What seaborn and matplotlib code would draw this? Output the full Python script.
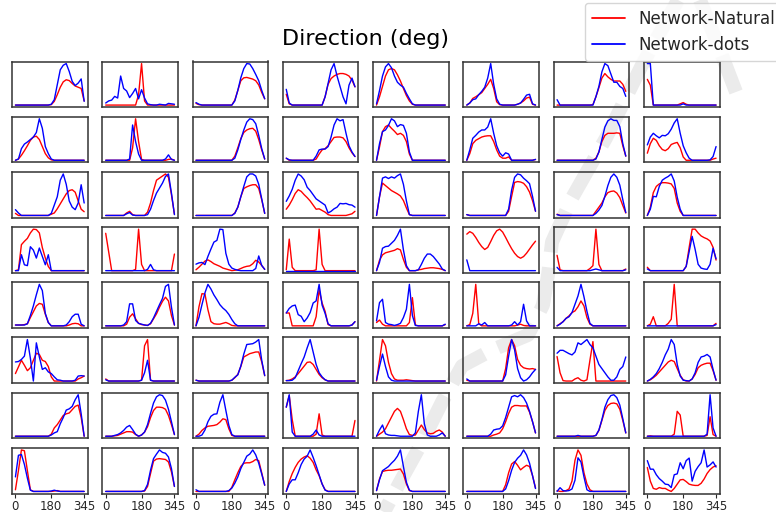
import matplotlib
matplotlib.use("Agg")
import matplotlib.pyplot as plt
import seaborn as sns
from matplotlib.lines import Line2D

# direction bins (deg)
angles = [0, 15, 30, 45, 60, 75, 90, 105, 120, 135, 150, 165,
          180, 195, 210, 225, 240, 255, 270, 285, 300, 315, 330, 345]
tick_values = [0, 180, 345]

# tuning curves per unit, one list of 8 panels per grid row
natural_row0 = [
    [0,0,0,0,0,0,0,0,0,0,0,0,0.1,0.9,2.5,4.3,5.6,6.1,5.9,5.2,4.6,4.3,4.0,1.0],
    [0,0,0,0,0,0,0,0,0,0,0,2.5,10,1.0,0,0,0,0,0,0,0,0,0,0],
    [0.4,0.1,0,0,0,0,0,0,0,0,0,0,0,1.2,3.5,5.8,6.5,6.6,6.4,6.2,5.8,4.8,3.0,1.5],
    [2.6,0.3,0,0,0,0,0,0,0,0,0,0,0,2.0,5.0,6.4,7.0,7.4,7.6,7.6,7.4,7.0,6.0,4.4],
    [0,2.0,4.5,7.0,8.5,8.8,8.5,7.3,5.8,4.0,2.3,1.0,0.2,0,0,0,0,0,0,0,0,0,0,0],
    [0,0.5,1.6,2.0,2.5,3.0,4.0,5.0,6.2,4.0,0.8,0.1,0,0,0,0,0,0.2,0.5,1.0,1.7,1.9,0.2,0],
    [0,0,0,0,0,0,0,0,0,0,0,0,0.1,2.0,4.2,6.5,7.6,6.8,6.2,5.8,5.8,5.8,5.0,3.3],
    [6.2,4.8,0,0,0,0,0,0,0,0,0,0.3,0.6,0.2,0,0,0,0,0,0,0,0,0,0],
]
dots_row0 = [
    [0,0,0,0,0,0,0,0,0,0,0,0,0.2,1.3,4.9,8.5,9.6,10,8.1,5.7,4.7,5.3,6.3,0.9],
    [0.5,1.0,1.2,2.1,1.7,7.0,4.0,3.4,1.8,2.8,4.0,1.5,3.7,1.7,0.3,0.1,0,0,0.2,0.1,0,0.4,0.3,0.2],
    [0.6,0.2,0,0,0,0,0,0,0,0,0,0,0,1.0,3.5,6.5,8.7,9.9,9.8,8.7,7.3,5.8,3.5,1.5],
    [3.8,0.5,0,0,0,0,0,0,0,0,0,0,0,2.0,5.2,8.5,10,7.0,4.5,2.0,0.3,4.8,6.5,4.4],
    [0.3,3.5,7.0,9.2,10,9.0,7.0,5.5,4.8,4.3,2.8,1.5,0.3,0,0,0,0,0,0,0,0,0,0,0],
    [0,0.5,1.3,1.5,2.5,3.3,4.3,6.5,10,5.0,1.5,0.2,0,0,0,0,0,0.2,0.5,1.4,2.4,2.6,0.3,0],
    [1.3,0,0,0,0,0,0,0,0,0,0,0,0,2.0,4.5,8.0,10,9.5,7.5,5.5,5.5,4.5,4.0,2.1],
    [10,10,0,0,0,0,0,0,0,0,0,0,0.3,0,0,0,0,0,0,0,0,0,0,0],
]

natural_row1 = [
    [0,0.3,1.2,2.3,3.5,4.8,5.6,5.8,5.0,3.3,1.6,0.6,0.1,0,0,0,0,0,0,0,0,0,0,0],
    [0,0,0,0,0,0,0,0,0,3.0,10,4.5,0.2,0,0,0,0,0,0,0,0,0.2,0.3,0],
    [0,0,0,0,0,0,0,0,0,0,0,0,0,1.0,3.0,5.2,6.7,7.3,7.6,7.7,7.0,5.0,2.5,0.3],
    [0.5,0,0,0,0,0,0,0,0,0,0.3,1.5,2.5,2.8,3.5,4.5,5.5,5.6,5.6,5.4,4.5,3.0,1.8,0.9],
    [0,3.2,6.9,8.1,8.5,7.7,7.0,6.2,6.5,6.0,4.5,1.5,0,0,0,0,0,0,0,0,0,0,0,0],
    [0,1.6,4.0,4.8,5.2,5.6,5.8,5.9,5.9,4.5,2.5,1.0,0.5,0.5,0.8,0,0,0,0,0,0,0,0,0.2],
    [0,0,0,0,0,0,0,0,0,0,0,0,0,0.5,2.0,4.5,6.0,6.5,6.5,6.5,6.6,6.5,3.5,1.0],
    [1.7,4.0,5.3,4.8,3.5,2.6,2.3,2.8,3.8,4.1,4.3,3.0,0.8,0,0,0,0,0,0,0,0,0,0.3,0.5],
]
dots_row1 = [
    [0,0.3,2.8,3.9,4.4,5.0,5.6,6.7,10,7.7,3.3,1.6,0.3,0,0,0,0,0,0,0,0,0,0,0],
    [0,0,0,0,0,0,0,0,0.3,8.5,4.5,1.5,0,0,0,0,0,0,0,0,0.3,1.3,0.2,0],
    [0,0,0,0,0,0,0,0,0,0,0,0,0,0.5,2.5,5.0,7.3,9.2,10,9.8,8.8,6.0,2.8,0.3],
    [0.5,0.1,0,0,0,0,0,0,0,0,1.0,2.5,2.7,2.7,3.3,5.6,8.5,10,9.5,9.8,6.5,3.5,2.0,0.9],
    [0,4.0,6.9,7.3,8.4,10,9.5,8.1,8.6,8.4,6.5,2.0,0,0,0,0,0,0,0,0,0,0,0,0],
    [0,2.5,5.3,6.0,6.8,7.3,7.3,8.0,10,6.5,3.5,1.8,1.0,1.8,1.5,0,0,0,0,0,0,0,0,0.2],
    [0,0,0,0,0,0,0,0,0,0,0,0,0,0.3,2.0,5.0,8.0,9.5,10,9.6,9.6,8.1,4.0,1.0],
    [3.7,5.6,6.5,5.9,5.4,6.0,5.9,6.4,7.5,9.0,10,6.5,3.5,1.8,0.5,0,0,0,0,0,0,0.1,0.9,3.3],
]

natural_row2 = [
    [0.5,0,0,0,0,0,0,0,0,0,0,0,0.3,0.6,1.6,2.8,4.0,5.2,6.0,6.2,5.6,3.5,1.5,0.9],
    [0,0,0,0,0,0,0,0.6,1.0,0.2,0,0,0,0,0.8,3.0,6.0,8.5,9.0,9.5,10,9.2,5.0,0.3],
    [0,0,0,0,0,0,0,0,0,0,0,0,0,0.6,2.0,4.5,6.5,6.9,7.2,7.4,7.4,6.5,3.8,0.5],
    [1.5,2.5,3.8,5.3,6.2,5.8,5.0,4.3,3.5,2.5,1.5,1.6,1.2,0.8,0.2,0,0,0,0,0,0,0.2,0.4,1.0],
    [0,4.5,7.8,7.2,6.6,6.0,5.6,5.2,4.7,3.6,1.8,0.2,0,0,0,0,0,0,0,0,0,0,0,0],
    [0.2,0,0,0,0,0,0,0,0,0,0,0,0,0,1.0,4.5,7.8,8.0,7.9,7.6,6.8,5.5,3.5,1.0],
    [0.3,0,0,0,0,0,0,0,0,0,0,0,0,1.0,2.0,3.0,4.5,5.5,5.8,5.9,5.4,4.3,2.4,0.6],
    [0,2.0,5.5,7.0,7.6,7.9,7.9,7.8,7.6,6.5,3.0,1.0,0,0,0,0,0,0,0,0,0,0,0,0],
]
dots_row2 = [
    [1.4,0.6,0,0,0,0,0,0,0,0,0,0,0.5,2.5,4.5,8.5,10,7.5,3.5,2.0,1.4,3.0,7.4,3.0],
    [0,0,0,0,0,0,0,0.4,0.7,0.1,0,0,0,0,0.2,1.5,3.6,5.4,6.6,7.8,9.4,10,5.4,0.2],
    [0,0,0,0,0,0,0,0,0,0,0,0,0,0.5,2.0,4.5,7.0,9.3,10,10,9.5,7.5,4.0,0.5],
    [3.4,4.7,6.3,8.5,10,9.5,8.6,6.8,6.0,5.0,4.0,3.5,3.0,2.5,0.6,1.0,1.6,2.0,2.9,2.8,2.9,2.6,2.5,2.0],
    [0,4.5,9.0,9.3,8.9,9.3,9.0,9.6,10,7.5,3.5,0.2,0,0,0,0,0,0,0,0,0,0,0,0],
    [0.2,0,0,0,0,0,0,0,0,0,0,0,0,0,1.5,6.0,9.0,9.8,9.6,8.8,8.2,7.5,4.5,1.0],
    [0.2,0,0,0,0,0,0,0,0,0,0,0,0,0.5,1.3,2.4,4.6,7.2,9.2,10,9.2,7.3,3.8,0.7],
    [0,1.5,4.6,4.5,7.0,8.5,9.0,9.4,10,8.3,4.4,1.5,0,0,0,0,0,0,0,0,0,0,0,0],
]

natural_row3 = [
    [0,0.2,6.2,7.0,7.7,9.0,9.9,9.8,9.0,5.5,3.0,1.0,0,0,0,0,0,0,0,0,0,0,0,0],
    [9.0,4.5,0,0,0,0,0,0,0,0,0.3,10,1.5,0,0,0,0,0,0,0,0,0,0,4.0],
    [0.2,0.8,1.5,2.2,2.5,2.1,1.6,1.3,1.0,0.6,0.4,0.2,0,0.1,0.2,0.5,0.8,1.0,1.1,1.6,2.4,2.0,1.2,0.3],
    [0.2,7.6,0.8,0,0,0,0,0,0,0,0.2,10,1.5,0,0,0,0,0,0,0,0,0,0,0],
    [0,2.5,3.8,4.3,4.5,4.7,4.9,5.3,5.0,2.7,0.8,0,0,0,0.2,0.3,0.5,0.6,0.7,0.7,0.6,0.5,0.3,0],
    [8.8,9.4,9.0,8.0,6.8,5.8,5.1,5.6,7.0,8.5,9.6,10,9.3,8.0,6.6,5.3,4.2,3.4,3.0,3.4,4.2,5.2,6.2,7.1],
    [3.7,0.2,0,0,0,0,0,0,0,0,0,0.5,1.2,10,1.5,0,0,0,0,0,0,0,0,0.4],
    [0.8,0,0,0,0,0,0,0,0,0,0,0,0,1.0,5.5,9.8,9.8,8.9,8.2,7.8,7.5,7.0,5.5,2.5],
]
dots_row3 = [
    [0,0,3.8,1.4,1.2,5.7,4.9,3.0,5.4,3.4,1.4,3.8,0,0,0,0,0,0,0,0,0,0,0,0],
    [0,0,0,0,0,0,0,0,0,0,0,0,0,0,0.3,1.5,0.2,0,0,0,0,0,0,0],
    [1.5,1.8,1.9,1.4,3.3,5.0,6.6,7.0,9.6,9.5,4.0,1.5,0.6,0.3,0.1,0,0,0,0,0,0.5,3.4,1.2,0.3],
    [0,0,0,0,0,0,0,0,0,0,0,0,0,0,0,0,0,0,0,0,0,0,0,0],
    [0,2.0,5.4,5.8,5.9,6.6,7.3,8.5,10,5.0,1.2,0,0,0,0.2,1.5,3.0,4.0,4.0,3.4,2.5,1.6,0.4,0],
    [2.6,0,0,0,0,0,0,0,0,0,0,0,0,0,0,0,0,0,0,0,0,0,0,0],
    [0.8,0,0,0,0,0,0,0,0,0,0,0,0.2,0.4,0.2,0,0,0,0,0,0,0,0,0.2],
    [0.4,0,0,0,0,0,0,0,0,0,0,0,0,1.0,4.5,8.1,5.0,1.5,0.6,0.4,0.3,1.5,5.3,2.8],
]

natural_row4 = [
    [0.2,0.2,0.2,0.3,0.5,2.0,3.4,4.8,5.4,5.2,2.8,0.8,0,0,0,0,0,0,0.2,0.5,0.6,0.5,0,0],
    [0,0,0,0,0,0,0,0.4,2.1,2.9,1.7,0.6,0.3,0.2,0.1,0.5,1.7,2.9,4.5,5.9,6.9,6.0,2.5,0.2],
    [0,4.5,7.6,7.5,3.8,1.0,0.5,0.4,0.4,0.6,0.8,0.5,0.1,0,0,0,0,0,0,0,0,0,0,0],
    [3.1,3.1,0,0,0,0,0,0,0,0,2.2,8.7,5.5,3.5,0.3,0,0,0,0,0,0,0,0.2,1.0],
    [0.8,1.4,0.4,0,0,0,0,0,0,0,0,0.8,6.8,0.2,0,0,0,0,0,0,0,0,0,0.3],
    [0,0.3,3.0,10,0.5,0,0,0,0,0,0,0,0,0,0,0,0,0.2,0.4,0.1,0,0,0,0],
    [0,0.5,1.0,1.8,2.4,3.2,3.6,4.6,6.0,4.8,2.0,0.4,0,0,0,0,0,0,0,0,0,0,0,0],
    [0,0.4,2.2,0,0,0,0,0.6,1.6,10,0,0,0,0,0,0,0,0,0,0,0,0,0,0.6],
]
dots_row4 = [
    [0.2,0.2,0.2,0.2,0.5,2.5,4.8,7.5,10,8.5,3.0,0.8,0,0,0,0,0,0.2,1.0,2.2,2.8,2.8,0.4,0],
    [0,0,0,0,0,0,0.2,1.0,5.3,5.3,1.3,0.6,0.4,0.2,0.1,0.6,1.9,3.5,5.1,6.6,9.5,10,4.5,0.2],
    [0,2.0,5.0,7.8,9.8,8.7,7.3,6.2,5.0,4.2,3.6,2.7,1.5,0.5,0,0,0,0,0,0,0,0,0,0],
    [3.1,4.2,4.8,5.0,2.7,2.3,1.0,1.9,3.2,5.5,6.0,10,5.0,3.0,0.5,0,0,0,0,0,0,0,0.2,1.0],
    [1.2,5.6,6.4,0.8,0.4,0.3,0.1,0.3,0.6,2.0,4.0,10,2.5,0.1,0,0,0,0,0,0,0,0,0,0.4],
    [0,0,0,0,0.5,0.2,0.8,0,0,0,0,0,0,0,0,0.2,1.0,0.2,1.0,5.2,1.2,0,0,0],
    [0,0.4,1.0,1.8,2.2,3.2,5.2,7.2,10,7.0,3.5,0.6,0,0,0,0,0,0,0,0,0,0,0,0],
    [0,0,0,0,0,0,0,0,0,0,0,0,0,0,0,0,0,0,0,0,0,0,0,0.3],
]

natural_row5 = [
    [1.8,3.4,5.0,3.8,2.5,3.2,5.0,6.7,6.4,5.0,4.7,3.5,1.0,0,0,0,0,0,0,0,0,0.5,0.8,1.2],
    [0.5,0,0,0,0,0,0,0,0,0,0,0,0.2,8.5,10,0.2,0,0,0,0,0,0,0,0],
    [0.2,0,0,0,0,0,0,0,0,0,0,0,0.2,0.8,1.6,3.5,5.8,6.2,6.6,6.8,7.0,7.0,4.6,1.3],
    [0.1,0.2,0.5,1.0,1.8,2.7,3.6,4.5,4.6,4.0,2.8,1.6,0.8,0.3,0,0,0,0,0,0,0,0,0,0],
    [0,5.0,10,8.5,4.5,1.8,0.5,0.2,0.2,0.2,0.3,0.2,0.1,0,0,0,0,0,0,0,0,0,0,0],
    [0.2,0,0,0,0,0,0,0,0,0,0,0,0,3.0,8.0,10,8.5,5.2,3.8,3.2,3.0,2.9,3.0,2.8],
    [5.9,2.0,0.1,0,0,0,0.5,0.8,0.2,0,0.3,5.0,9.5,0,0,0,0,0,0,0,0,0,0,0],
    [0,0.3,0.8,1.4,2.2,3.0,3.8,4.6,5.0,4.7,3.0,1.4,0.3,0,0,0.5,1.6,3.2,3.8,4.1,4.3,4.3,2.5,0.2],
]
dots_row5 = [
    [4.6,4.7,5.2,6.0,10,5.5,0,9.2,5.8,2.8,3.2,2.2,1.8,1.0,0.3,0.2,0,0,0,0,0.2,1.2,1.3,1.2],
    [0.3,0,0,0,0,0,0,0,0,0,0,0,0.2,2.0,5.0,0.2,0,0,0,0,0,0,0,0],
    [0.2,0,0,0,0,0,0,0,0,0,0,0,0.2,0.9,1.5,3.6,6.5,8.8,8.9,9.0,9.4,10,5.0,1.3],
    [0.1,0.1,0.2,0.8,2.5,4.2,5.8,8.0,10,7.0,4.0,2.0,1.0,0.3,0,0,0,0,0,0,0,0,0,0],
    [0.2,3.5,6.5,3.5,1.0,0.2,0,0,0,0,0,0,0,0,0,0,0,0,0,0,0,0,0,0],
    [0.5,0,0,0,0,0,0,0,0,0,0,0,0,1.5,6.0,10,7.5,3.0,0.8,0,0.3,1.0,2.0,2.8],
    [6.7,7.4,7.4,7.0,6.6,6.3,7.0,9.2,8.8,9.4,10,8.8,8.0,6.0,4.0,3.0,2.0,1.0,0.2,0.2,1.0,2.8,3.5,5.8],
    [0,0.4,1.0,1.8,3.0,4.5,6.3,7.7,10,8.8,4.0,1.2,0.2,0.1,0,0.5,2.0,4.5,5.8,6.0,6.4,5.8,2.8,0.2],
]

natural_row6 = [
    [0,0,0,0,0,0,0,0,0,0,0,0,0.5,2.0,2.8,3.9,5.0,5.4,5.6,6.4,7.2,7.5,4.5,0],
    [0,0,0,0.1,0.2,0.5,0.8,1.1,1.1,1.0,0.4,0,0.3,1.0,2.3,4.5,6.2,7.0,7.0,6.9,6.5,5.0,2.8,0.4],
    [0,0.5,1.4,2.0,2.4,2.5,2.6,2.8,3.4,4.2,4.0,1.8,0.2,0,0,0,0,0,0,0,0,0,0,0],
    [7.0,9.8,4.0,0,0,0,0,0,0,0,0.5,5.4,0.3,0,0,0,0,0,0,0,0,0,0,3.8],
    [0,0.5,1.0,1.8,3.2,4.6,6.0,6.7,6.0,4.0,1.8,0.4,0.2,0.3,1.5,2.7,1.6,0.8,0.6,0.7,1.2,1.5,1.0,0],
    [0,0,0,0,0,0,0,0,0,0.3,0.5,0.8,1.8,3.5,5.5,7.0,7.4,7.4,7.3,7.3,7.3,5.8,3.5,0.8],
    [0,0,0,0,0,0,0,0,0,0,0,0,0,0.2,1.4,3.8,6.2,7.4,7.9,8.0,7.8,6.5,3.8,0.8],
    [0,0.1,0,0,0,0,0,0,0,0.5,6.0,5.1,0,0,0,0,0,0,0,0,0.2,4.7,0.4,0],
]
dots_row6 = [
    [0,0,0,0,0,0,0,0,0,0,0,0,0.3,0.8,1.1,3.0,4.5,6.3,6.6,7.2,8.8,10,5.4,0],
    [0,0,0,0.2,0.4,0.8,1.4,2.2,2.6,1.6,0.5,0,0.3,1.0,2.8,5.5,8.0,9.5,10,9.8,8.7,6.5,3.5,0.4],
    [0,0,0.3,1.5,3.5,4.8,5.3,5.4,8.2,10,6.2,2.6,0.4,0,0,0,0,0,0,0,0,0,0,0],
    [7.0,10,1.0,0,0,0,0,0,0,0.5,1.5,0.3,0,0,0,0,0,0,0,0,0,0,0,0],
    [0,1.5,2.7,0.6,0.3,0.2,0.2,0.1,0,0,0,0,0,0.8,6.0,10,3.0,0.3,0,0,0,0.3,0.8,0],
    [0,0,0,0,0,0,0,0,0.5,1.5,1.7,1.8,2.5,4.5,7.0,9.5,9.8,9.5,10,9.3,8.0,6.0,3.5,0.8],
    [0,0,0,0,0,0,0,0.2,0,0,0,0,0,0.2,1.5,4.0,7.0,8.8,9.8,10,9.3,7.5,4.2,0.8],
    [0,0,0,0,0,0,0,0,0,0,0,0,0,0,0,0,0,0,0,0,0.5,10,2.0,0],
]

natural_row7 = [
    [0.4,5.0,10,9.8,5.0,0.4,0,0,0,0,0,0,0,0.1,0.2,0,0,0,0,0,0,0,0,0],
    [0,0,0,0,0,0,0,0,0,0,0,0,0,0.1,1.2,4.3,7.3,7.8,7.9,7.8,7.7,7.1,4.7,1.2],
    [0,0,0,0,0,0,0,0,0,0,0,0,1.0,2.8,4.5,6.0,6.8,6.9,6.9,7.2,7.7,7.4,4.5,1.5],
    [0,2.4,4.3,5.8,7.0,7.8,8.3,8.6,8.0,7.0,5.2,3.8,1.8,0.4,0,0,0,0,0,0,0,0,0,0],
    [0.2,3.0,4.8,5.0,5.1,5.1,5.2,5.3,5.4,4.2,1.8,0.2,0,0,0,0,0,0,0,0,0,0,0,0],
    [0,0,0,0,0,0,0,0,0,0,0,0,0,1.6,4.5,6.6,7.2,6.3,5.2,5.8,6.3,6.0,3.8,0.8],
    [0.2,0,0,0.2,0.6,2.5,7.5,10,8.7,4.5,1.8,0.4,0,0,0,0,0,0,0,0,0,0,0,0],
    [5.9,2.7,1.0,0.8,1.2,1.0,1.0,0.6,0.3,1.0,2.0,3.0,3.1,2.6,2.0,1.8,1.7,1.7,2.2,3.2,4.5,5.4,6.0,6.3],
]
dots_row7 = [
    [3.5,8.7,8.9,6.5,3.2,0.3,0,0,0,0,0,0,0.1,0.3,0.1,0,0,0,0,0,0,0,0,0],
    [0,0,0,0,0,0,0,0,0,0,0,0,0,0.2,1.7,5.1,7.9,9.0,10,9.4,9.2,8.3,5.5,1.2],
    [0.4,0,0,0,0,0,0,0,0,0,0,0.2,0.8,2.0,3.5,5.5,7.0,8.5,9.0,10,8.8,6.8,4.2,1.5],
    [0,1.8,2.8,2.8,4.5,6.5,7.8,8.5,10,8.2,6.2,4.0,1.8,0.3,0,0,0,0,0,0,0,0,0,0],
    [0.2,2.8,5.0,5.5,6.0,6.8,7.5,8.5,10,6.0,2.2,0.3,0,0,0,0,0,0,0,0,0,0,0,0],
    [0,0,0,0,0,0,0,0,0,0,0,0,0,0.6,2.6,5.1,7.0,8.0,8.7,10,8.8,6.8,3.8,0.7],
    [0,0.9,0.2,0.1,0.2,0.6,2.7,8.1,7.1,3.5,0.4,0,0,0,0,0,0,0,0,0,0,0,0,0],
    [7.5,5.5,5.5,4.2,3.3,2.7,2.0,1.9,1.2,4.2,4.4,7.0,5.6,7.5,8.1,2.7,5.0,6.1,7.0,10,6.0,6.5,7.2,6.0],
]

natural_rows = [natural_row0, natural_row1, natural_row2, natural_row3,
                natural_row4, natural_row5, natural_row6, natural_row7]
dots_rows = [dots_row0, dots_row1, dots_row2, dots_row3,
             dots_row4, dots_row5, dots_row6, dots_row7]

sns.set_theme(style="white")
plt.rcParams["font.family"] = ["DejaVu Sans"]

W, H = 776, 512
fig = plt.figure(figsize=(W / 100, H / 100), dpi=100)

# faint dashed brush strokes in the background (pixel coordinates, y down)
brush_strokes = [
    [(700, 0), (718, 45), (736, 92)],
    [(678, 0), (642, 65), (606, 138), (572, 198), (552, 242), (548, 275),
     (543, 305), (528, 335), (492, 350), (462, 366), (442, 402), (420, 446),
     (400, 482), (384, 512)],
]
for stroke in brush_strokes:
    xs = [p[0] / W for p in stroke]
    ys = [1 - p[1] / H for p in stroke]
    fig.add_artist(Line2D(xs, ys, transform=fig.transFigure, color="#ebebeb",
                          lw=10, linestyle=(0, (3.2, 1.1)),
                          dash_capstyle="butt", solid_capstyle="butt",
                          zorder=-5))

gs = fig.add_gridspec(8, 8, left=12 / W, right=719.5 / W,
                      top=1 - 61.5 / H, bottom=1 - 493.5 / H,
                      wspace=0.194, hspace=0.209)

for r in range(8):
    for c in range(8):
        ax = fig.add_subplot(gs[r, c])
        ax.set_facecolor("none")
        sns.lineplot(x=angles, y=natural_rows[r][c], color="red",
                     linewidth=1.0, ax=ax)
        sns.lineplot(x=angles, y=dots_rows[r][c], color="blue",
                     linewidth=1.0, ax=ax)
        ax.set_xlabel("")
        ax.set_ylabel("")
        ax.set_yticks([])
        if r == 7:
            ax.set_xticks(tick_values)
            ax.set_xticklabels([str(v) for v in tick_values])
            ax.tick_params(axis="x", bottom=True, length=3, width=0.8,
                           pad=2, labelsize=8.5)
        else:
            ax.set_xticks([])
        for sp in ax.spines.values():
            sp.set_color("#333333")
            sp.set_linewidth(1.1)

fig.text(366 / W, 1 - 45 / H, "Direction (deg)", ha="center",
         va="baseline", fontsize=16, color="black")

handles = [Line2D([], [], color="red", lw=1.3, label="Network-Natural"),
           Line2D([], [], color="blue", lw=1.3, label="Network-dots")]
fig.legend(handles=handles, loc="upper left",
           bbox_to_anchor=(585 / W, 1 - 3 / H), fontsize=12,
           frameon=True, borderaxespad=0)

fig.savefig("out.png", dpi=100)
